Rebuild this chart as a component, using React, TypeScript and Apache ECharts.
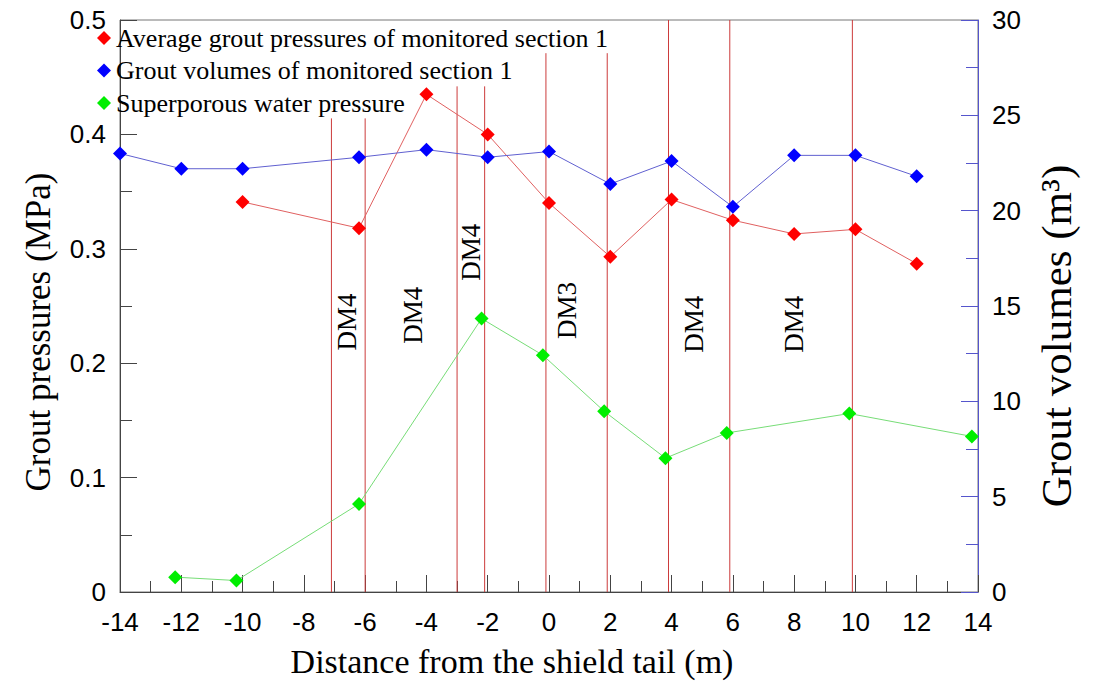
import React, { useEffect, useRef } from "react";
import * as echarts from "echarts";

// Average grout pressures of monitored section 1 (MPa)
const redX = [-10, -6.2, -4, -2, 0, 2, 4, 6, 8, 10, 12];
const redY = [0.341, 0.318, 0.435, 0.4, 0.34, 0.293, 0.343, 0.325, 0.313, 0.317, 0.287];
// Grout volumes of monitored section 1 (m3)
const blueX = [-14, -12, -10, -6.2, -4, -2, 0, 2, 4, 6, 8, 10, 12];
const blueY = [23.0, 22.2, 22.2, 22.8, 23.2, 22.8, 23.1, 21.4, 22.6, 20.2, 22.9, 22.9, 21.8];
// Superporous water pressure (MPa)
const greenX = [-12.2, -10.2, -6.2, -2.2, -0.2, 1.8, 3.8, 5.8, 9.8, 13.8];
const greenY = [0.013, 0.01, 0.077, 0.239, 0.207, 0.158, 0.117, 0.139, 0.156, 0.136];
// Section boundary lines (x position, top end in MPa)
const sectionX = [-7.1, -6.0, -3.0, -2.1, -0.1, 1.9, 3.9, 5.9, 9.9];
const sectionTop = [0.414, 0.414, 0.442, 0.442, 0.471, 0.471, 0.5, 0.5, 0.5];
// Zone annotations
const zoneLabels = ["DM4", "DM4", "DM4", "DM3", "DM4", "DM4"];
const zoneX = [-6.6, -4.45, -2.55, 0.58, 4.72, 7.98];
const zoneY = [0.236, 0.242, 0.297, 0.246, 0.234, 0.234];

const seriesNames = [
  "Average grout pressures of monitored section 1",
  "Grout volumes of monitored section 1",
  "Superporous water pressure",
];

const SERIF = "'Liberation Serif', 'Times New Roman', serif";
const SANS = "'Liberation Sans', Arial, sans-serif";

export default function App() {
  const ref = useRef<HTMLDivElement>(null);
  useEffect(() => {
    if (!ref.current) return;
    const chart = echarts.init(ref.current, undefined, { renderer: "svg" });
    const zip = (xs: number[], ys: number[]) => xs.map((x, i) => [x, ys[i]]);
    const axisLabelSans = { fontFamily: SANS, fontSize: 26, color: "#000" };
    const sectionSeries = sectionX.map((x, i) => ({
      name: "section-" + i,
      type: "line",
      yAxisIndex: 0,
      data: [
        [x, 0],
        [x, sectionTop[i]],
      ],
      symbol: "none",
      silent: true,
      color: "#cc3b3b",
      lineStyle: { color: "#cc3b3b", width: 1 },
      z: 1,
    }));
    chart.setOption({
      animation: false,
      backgroundColor: "#fff",
      grid: {
        left: 120,
        right: 115,
        top: 20,
        bottom: 97,
        show: true,
        borderColor: "#777",
        borderWidth: 1,
      },
      legend: {
        orient: "vertical",
        left: 92,
        top: 20,
        icon: "diamond",
        itemWidth: 14,
        itemHeight: 14,
        itemGap: 6.5,
        selectedMode: false,
        textStyle: { fontFamily: SERIF, fontSize: 26, color: "#000", lineHeight: 26 },
        data: seriesNames,
      },
      xAxis: {
        type: "value",
        min: -14,
        max: 14,
        interval: 2,
        name: "Distance from the shield tail (m)",
        nameLocation: "middle",
        nameGap: 52,
        nameTextStyle: { fontFamily: SERIF, fontSize: 34, color: "#000", padding: [0, 74, 0, 0] },
        axisLine: { show: true, onZero: false, lineStyle: { color: "#444", width: 1 } },
        axisTick: { show: true, inside: true, length: 17, lineStyle: { color: "#444" } },
        minorTick: { show: true, splitNumber: 2, length: 11, lineStyle: { color: "#444" } },
        splitLine: { show: false },
        axisLabel: { ...axisLabelSans, margin: 17 },
      },
      yAxis: [
        {
          type: "value",
          min: 0,
          max: 0.5,
          interval: 0.1,
          name: "Grout pressures (MPa)",
          nameLocation: "middle",
          nameRotate: 90,
          nameGap: 64,
          nameTextStyle: { fontFamily: SERIF, fontSize: 35, color: "#000", padding: [0, 52, 0, 0] },
          axisLine: { show: true, onZero: false, lineStyle: { color: "#444", width: 1 } },
          axisTick: { show: true, inside: true, length: 17, lineStyle: { color: "#444" } },
          minorTick: { show: true, splitNumber: 2, length: 12, lineStyle: { color: "#444" } },
          splitLine: { show: false },
          axisLabel: { ...axisLabelSans, margin: 14, formatter: (v: number) => (v === 0 ? "0" : v.toFixed(1)) },
        },
        {
          type: "value",
          min: 0,
          max: 30,
          interval: 5,
          position: "right",
          name: "Grout volumes (m³)",
          nameLocation: "middle",
          nameRotate: 90,
          nameGap: 57,
          nameTextStyle: { fontFamily: SERIF, fontSize: 43, color: "#000", padding: [0, 60, 0, 0] },
          axisLine: { show: true, onZero: false, lineStyle: { color: "#5555cc", width: 1 } },
          axisTick: { show: true, inside: true, length: 17, lineStyle: { color: "#5555cc" } },
          minorTick: { show: true, splitNumber: 2, length: 12, lineStyle: { color: "#5555cc" } },
          splitLine: { show: false },
          axisLabel: { ...axisLabelSans, margin: 14 },
        },
      ],
      series: [
        ...sectionSeries,
        {
          name: seriesNames[0],
          type: "line",
          yAxisIndex: 0,
          data: zip(redX, redY),
          symbol: "diamond",
          symbolSize: 14,
          itemStyle: { color: "#ff0000" },
          lineStyle: { color: "#e06060", width: 1 },
          z: 4,
        },
        {
          name: seriesNames[1],
          type: "line",
          yAxisIndex: 1,
          data: zip(blueX, blueY),
          symbol: "diamond",
          symbolSize: 14,
          itemStyle: { color: "#0000ff" },
          lineStyle: { color: "#6060d0", width: 1 },
          z: 4,
        },
        {
          name: seriesNames[2],
          type: "line",
          yAxisIndex: 0,
          data: zip(greenX, greenY),
          symbol: "diamond",
          symbolSize: 14,
          itemStyle: { color: "#00ee00" },
          lineStyle: { color: "#77dd77", width: 1 },
          z: 4,
        },
      ],
    });
    const graphics = zoneLabels.map((t, i) => {
      const p = chart.convertToPixel({ xAxisIndex: 0, yAxisIndex: 0 }, [zoneX[i], zoneY[i]]) as number[];
      return {
        type: "text",
        x: p[0],
        y: p[1],
        rotation: Math.PI / 2,
        z: 10,
        style: {
          text: t,
          fill: "#000",
          font: `27px ${SERIF}`,
          align: "center",
          verticalAlign: "middle",
        },
      };
    });
    chart.setOption({ graphic: graphics });
    return () => chart.dispose();
  }, []);
  return (
    <div
      ref={ref}
      style={{ position: "absolute", left: 0, top: 0, width: 1093, height: 689, background: "#fff" }}
    />
  );
}
